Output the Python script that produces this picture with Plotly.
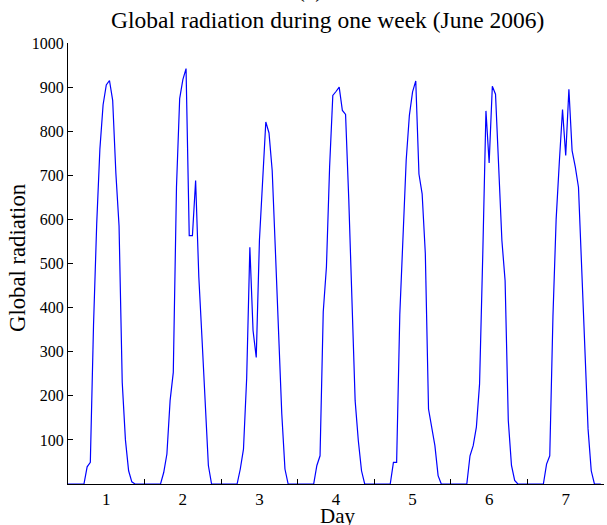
import plotly.graph_objects as go

# Hourly global radiation, 24 values per day (hours 0..23 of each day)
day1 = [0, 0, 0, 0, 0, 0, 39, 49, 360, 590, 760, 860, 905, 915, 870, 705, 585, 230, 100, 30, 5, 0, 0, 0]
day2 = [0, 0, 0, 0, 0, 0, 26, 68, 189, 253, 673, 874, 917, 942, 563, 563, 688, 470, 330, 190, 42, 0, 0, 0]
day3 = [0, 0, 0, 0, 0, 0, 34, 79, 240, 537, 348, 287, 552, 688, 821, 796, 711, 530, 345, 160, 34, 0, 0, 0]
day4 = [0, 0, 0, 0, 0, 0, 42, 64, 390, 492, 720, 881, 890, 900, 847, 838, 646, 416, 189, 98, 30, 0, 0, 0]
day5 = [0, 0, 0, 0, 0, 0, 49, 49, 385, 582, 734, 836, 889, 914, 703, 658, 522, 170, 125, 87, 19, 0, 0, 0]
day6 = [0, 0, 0, 0, 0, 0, 64, 87, 129, 227, 520, 846, 728, 902, 884, 718, 552, 461, 144, 42, 8, 0, 0, 0]
day7 = [0, 0, 0, 0, 0, 0, 45, 64, 380, 600, 730, 849, 745, 895, 756, 719, 673, 492, 310, 125, 30, 0, 0, 0]

day_labels = ["1", "2", "3", "4", "5", "6", "7"]
yticks = [100, 200, 300, 400, 500, 600, 700, 800, 900, 1000]

radiation = day1 + day2 + day3 + day4 + day5 + day6 + day7
hours = list(range(len(radiation)))
label_pos = [24 * i + 12 for i in range(7)]
day_bounds = [24 * i for i in range(1, 7)]

FONT = "Liberation Serif"

fig = go.Figure()
fig.add_trace(go.Scatter(x=hours, y=radiation, mode="lines",
                         line=dict(color="#0000ff", width=1.2),
                         showlegend=False, hoverinfo="skip"))

fig.update_layout(
    width=607, height=525,
    margin=dict(l=68, r=3, t=43, b=41),
    paper_bgcolor="white", plot_bgcolor="white",
    font=dict(family=FONT, color="black", size=16),
    xaxis=dict(range=[0, 168], showgrid=False, zeroline=False, automargin=False,
               showline=True, linecolor="black", linewidth=1,
               tickmode="array", tickvals=label_pos, ticktext=day_labels,
               ticks="", tickfont=dict(family=FONT, size=17, color="black"),
               minor=dict(tickmode="array", tickvals=day_bounds, ticks="inside",
                          ticklen=5, tickwidth=1, tickcolor="black", showgrid=False)),
    yaxis=dict(range=[0, 1000], showgrid=False, zeroline=False, automargin=False,
               showline=True, linecolor="black", linewidth=1,
               tickmode="array", tickvals=yticks,
               ticks="inside", ticklen=5, tickwidth=1, tickcolor="black",
               tickfont=dict(family=FONT, size=16, color="black")),
)

fig.add_annotation(text="Global radiation during one week (June 2006)",
                   xref="paper", yref="paper", x=0.484, y=1.052,
                   xanchor="center", yanchor="middle", showarrow=False,
                   font=dict(family=FONT, size=23.5, color="black"))
fig.add_annotation(text="(a)", xref="paper", yref="paper", x=0.451, y=1.122,
                   xanchor="center", yanchor="middle", showarrow=False,
                   font=dict(family=FONT, size=23.5, color="black"))
fig.add_annotation(text="Day", xref="paper", yref="paper", x=0.502, y=-0.0726,
                   xanchor="center", yanchor="middle", showarrow=False,
                   font=dict(family=FONT, size=21, color="black"))
fig.add_annotation(text="Global radiation", xref="paper", yref="paper",
                   x=-0.0933, y=0.5125, textangle=-90,
                   xanchor="center", yanchor="middle", showarrow=False,
                   font=dict(family=FONT, size=22.7, color="black"))

fig.write_html("out.html", config={"displayModeBar": False},
               post_script="document.body.style.margin='0';document.body.style.overflow='hidden';")
